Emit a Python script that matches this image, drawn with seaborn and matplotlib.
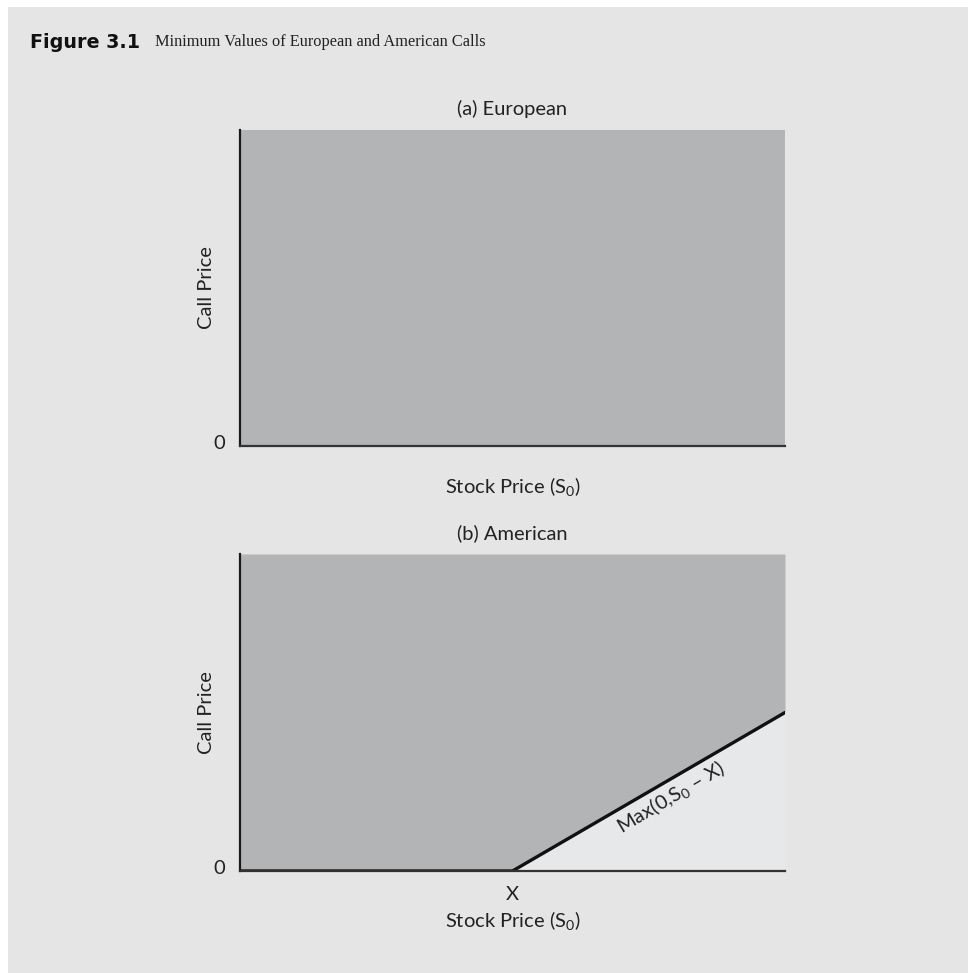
import matplotlib
matplotlib.use("Agg")
import matplotlib.pyplot as plt
from matplotlib.patches import Rectangle
from matplotlib.transforms import ScaledTranslation
import numpy as np
import pandas as pd
import seaborn as sns

# ---- data ----
stock_price = [0.0, 0.5, 1.0]          # S0 values (X at 0.5)
strike = 0.5
payoff = [0.0, 0.0, 0.5]                # Max(0, S0 - X)
y_top = [1.0, 1.0, 1.0]                 # upper bound of plotted region
panel_titles = ["(a) European", "(b) American"]
x_label = "Stock Price (S$_0$)"
y_label = "Call Price"
line_label = "Max(0,S$_0$ – X)"
strike_label = "X"

sns.set_theme(style="white")
plt.rcParams['font.family'] = ['Lato', 'DejaVu Sans']
plt.rcParams['mathtext.fontset'] = 'custom'
plt.rcParams['mathtext.rm'] = 'Lato'
plt.rcParams['mathtext.it'] = 'Lato'

W, H = 968, 973
fig = plt.figure(figsize=(W / 100, H / 100), dpi=100, facecolor="white")
BG = "#e5e5e5"
DARK = "#b3b4b5"
LIGHT = "#e7e8e9"
TXT = "#222222"
FS = 14.5
fig.patches.append(Rectangle((8 / W, 0), 1 - 8 / W, (H - 7) / H,
                             transform=fig.transFigure, facecolor=BG,
                             edgecolor="none", zorder=-10))

def px_axes(left, top, right, bottom):
    return [left / W, (H - bottom) / H, (right - left) / W, (bottom - top) / H]

fig.text(30 / W, 1 - 42 / H, "Figure 3.1", fontsize=13.8, fontweight="heavy",
         family="DejaVu Sans", va="center", ha="left", color="#111111")
fig.text(155 / W, 1 - 42 / H, "Minimum Values of European and American Calls",
         fontsize=11.8, family="Liberation Serif", va="center", ha="left",
         color=TXT)

axA = fig.add_axes(px_axes(240, 130, 785, 446))
axB = fig.add_axes(px_axes(240, 554, 785, 871))

df = pd.DataFrame({"S0": stock_price, "payoff": payoff, "top": y_top})
up4 = ScaledTranslation(0, 4 / 100, fig.dpi_scale_trans)

for i, ax in enumerate([axA, axB]):
    ax.set_facecolor(BG)
    ax.set_xlim(0, 1)
    ax.set_ylim(0, 1)
    if i == 0:
        ax.fill_between(df["S0"], 0, df["top"], color=DARK, lw=0)
    else:
        ax.fill_between(df["S0"], 0, df["payoff"], color=LIGHT, lw=0)
        ax.fill_between(df["S0"], df["payoff"], df["top"], color=DARK, lw=0)
        sns.lineplot(data=df, x="S0", y="payoff", ax=ax, color="#111111",
                     lw=2.4, legend=False)
        # label along payoff line
        ax.text(0.79, 0.233, line_label, rotation=30.6, rotation_mode="anchor",
                ha="center", va="center", fontsize=FS, color=TXT,
                transform=ax.transData)
    for s in ["top", "right"]:
        ax.spines[s].set_visible(False)
    ax.spines["left"].set_color("#1a1a1a")
    ax.spines["left"].set_linewidth(1.6)
    ax.spines["bottom"].set_color("#333333")
    ax.spines["bottom"].set_linewidth(1.6)
    ax.set_yticks([0])
    ax.set_yticklabels(["0"], fontsize=FS, color=TXT)
    ax.tick_params(axis="y", length=0, pad=11)
    for lbl in ax.get_yticklabels():
        lbl.set_transform(lbl.get_transform() + up4)
    if i == 1:
        ax.set_xticks([strike])
        ax.set_xticklabels([strike_label], fontsize=FS, color=TXT)
        ax.tick_params(axis="x", length=0, pad=11)
    else:
        ax.set_xticks([])
    ax.set_xlabel("")
    ax.set_ylabel("")
    ax.text(-33 / 545, 0.5, y_label, rotation=90, ha="center", va="center",
            transform=ax.transAxes, fontsize=FS, color=TXT)
    ax.text(0.5, 1 + 21 / 317, panel_titles[i], ha="center", va="center",
            transform=ax.transAxes, fontsize=FS, color=TXT)

axA.text(0.5, -40 / 316, x_label, ha="center", va="center",
         transform=axA.transAxes, fontsize=FS, color=TXT)
axB.text(0.5, -49 / 317, x_label, ha="center", va="center",
         transform=axB.transAxes, fontsize=FS, color=TXT)

fig.savefig("out.png", dpi=100, facecolor=fig.get_facecolor())
